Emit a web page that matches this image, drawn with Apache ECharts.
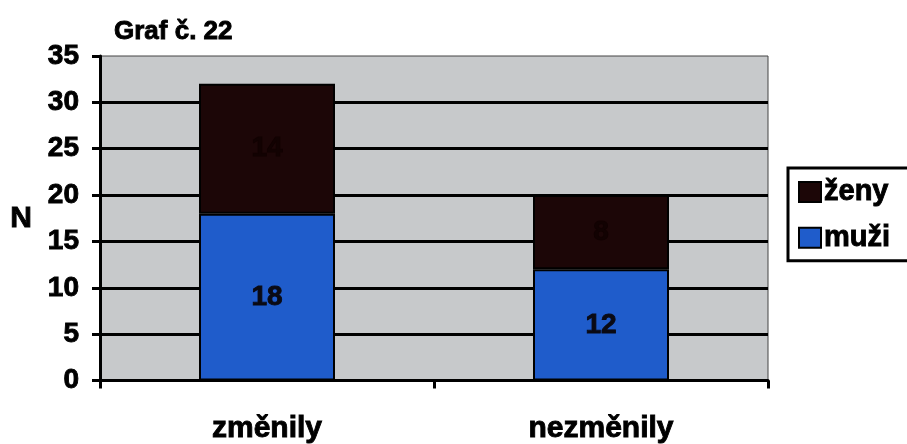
<!DOCTYPE html>
<html>
<head>
<meta charset="utf-8">
<script src="https://cdn.jsdelivr.net/npm/echarts@6/dist/echarts.min.js"></script>
<style>
  html, body { margin: 0; padding: 0; background: #ffffff; }
  #chart { width: 907px; height: 444px; }
</style>
</head>
<body>
<div id="chart"></div>
<script>
// Categories and counts per group
const categories = ['změnily', 'nezměnily'];
const muzi = [18, 12];
const zeny = [14, 8];
const yTicks = [0, 5, 10, 15, 20, 25, 30, 35];

const FONT = '"Liberation Sans", Arial, sans-serif';
// heavy bold text: bold face plus a thin outline in the same colour
const heavy = (size, color) => ({
  fontFamily: FONT, fontWeight: 'bold', fontSize: size, color: color,
  textBorderColor: color, textBorderWidth: 0.9
});

const chart = echarts.init(document.getElementById('chart'), null, { renderer: 'canvas' });

// hide the gridline at the top value; the grid border draws that edge thinly
const splitColors = yTicks.map((t, i) => i === yTicks.length - 1 ? 'rgba(0,0,0,0)' : '#000000');

chart.setOption({
  animation: false,
  backgroundColor: '#ffffff',
  title: {
    text: 'Graf č. 22',
    left: 109,
    top: 14,
    textStyle: heavy(26, '#000')
  },
  legend: {
    data: ['ženy', 'muži'],
    orient: 'vertical',
    left: 788,
    top: 168,
    padding: [9, 40, 8, 10],
    icon: 'rect',
    itemWidth: 22,
    itemHeight: 20,
    itemGap: 16,
    borderColor: '#000',
    borderWidth: 3,
    textStyle: Object.assign(heavy(29, '#000'), { padding: [0, 0, 0, -2] })
  },
  grid: {
    left: 100,
    top: 56,
    width: 668,
    height: 327,
    show: true,
    backgroundColor: '#c7c9cb',
    borderColor: '#444',
    borderWidth: 1
  },
  xAxis: {
    type: 'category',
    data: categories,
    axisLine: { lineStyle: { color: '#000', width: 3 } },
    axisTick: { show: true, length: 8, lineStyle: { color: '#000', width: 3 } },
    axisLabel: Object.assign({ margin: 33 }, heavy(30, '#000'))
  },
  yAxis: {
    type: 'value',
    min: 0,
    max: 35,
    interval: 5,
    name: 'N',
    nameLocation: 'middle',
    nameRotate: 0,
    nameGap: 68,
    nameTextStyle: heavy(30, '#000'),
    axisLine: { show: true, lineStyle: { color: '#000', width: 3 } },
    axisTick: { show: true, length: 8, lineStyle: { color: '#000', width: 3 } },
    axisLabel: Object.assign({ margin: 21 }, heavy(28, '#000')),
    splitLine: { show: true, lineStyle: { color: splitColors, width: 3 } }
  },
  series: [
    {
      name: 'muži',
      type: 'bar',
      stack: 'total',
      data: muzi,
      barWidth: 136,
      itemStyle: { color: '#1f5ccb', borderColor: '#000', borderWidth: 2 },
      label: Object.assign({ show: true, position: 'inside' }, heavy(28, '#0a0a14'))
    },
    {
      name: 'ženy',
      type: 'bar',
      stack: 'total',
      data: zeny,
      barWidth: 136,
      itemStyle: { color: '#1c0607', borderColor: '#000', borderWidth: 2 },
      label: Object.assign({ show: true, position: 'inside' }, heavy(28, '#120202'))
    }
  ]
});
</script>
</body>
</html>
